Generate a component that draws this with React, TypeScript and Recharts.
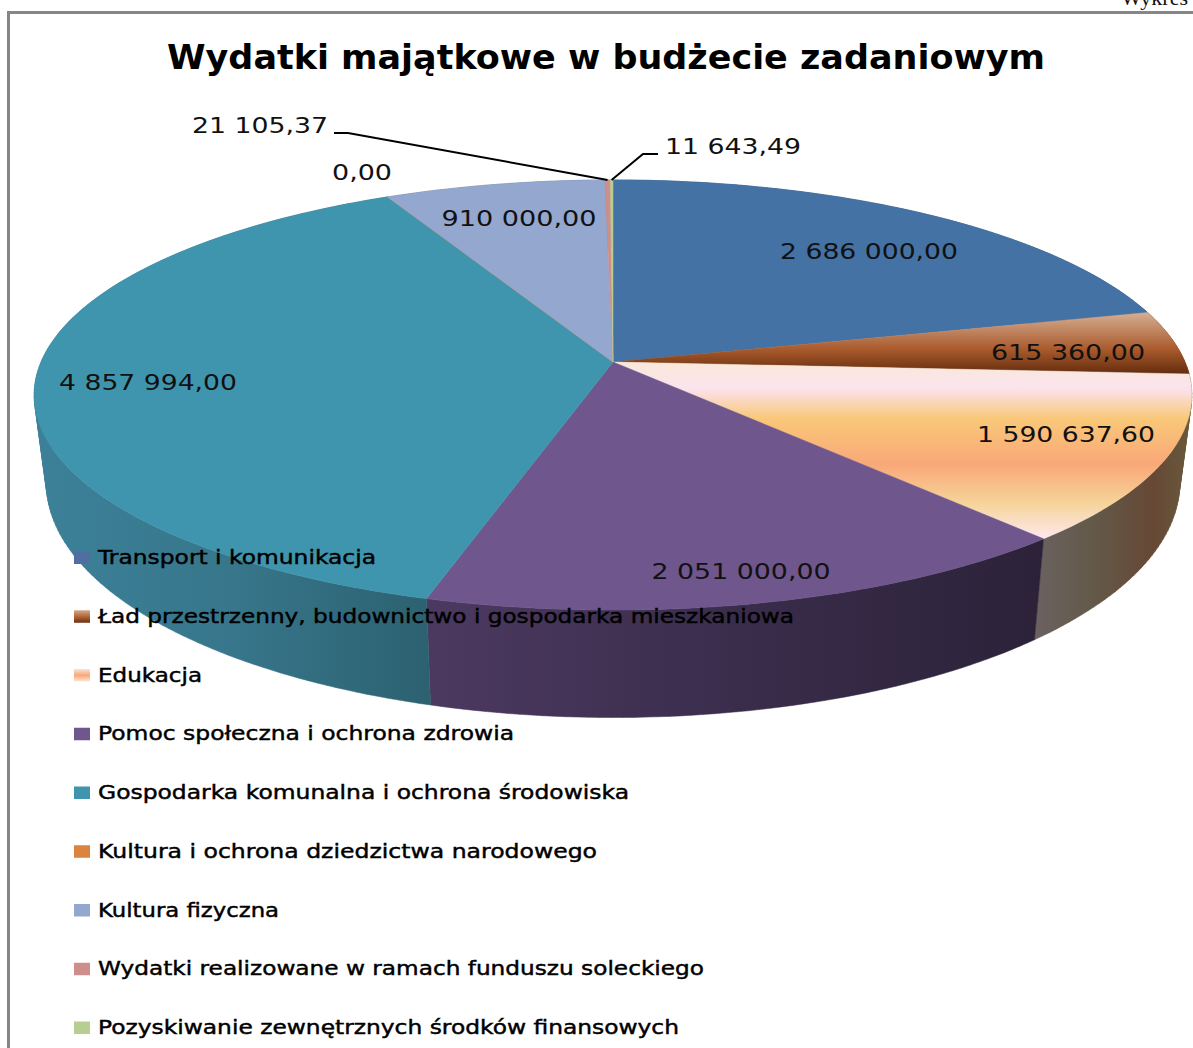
import { Legend, Pie, PieChart } from 'recharts';

const categories = [
  'Transport i komunikacja',
  'Ład przestrzenny, budownictwo i gospodarka mieszkaniowa',
  'Edukacja',
  'Pomoc społeczna i ochrona zdrowia',
  'Gospodarka komunalna i ochrona środowiska',
  'Kultura i ochrona dziedzictwa narodowego',
  'Kultura fizyczna',
  'Wydatki realizowane w ramach funduszu soleckiego',
  'Pozyskiwanie zewnętrznych środków finansowych',
];
const values = [2686000, 615360, 1590637.6, 2051000, 4857994, 0, 910000, 21105.37, 11643.49];
const valueLabels = [
  '2 686 000,00',
  '615 360,00',
  '1 590 637,60',
  '2 051 000,00',
  '4 857 994,00',
  '0,00',
  '910 000,00',
  '21 105,37',
  '11 643,49',
];
const topColors = [
  '#4472a5',
  'url(#brownTop)',
  'url(#eduTop)',
  '#6f568c',
  '#4095ae',
  '#dc843e',
  '#93a7cf',
  '#cd8e8c',
  '#b8cd92',
];
const wallColors = [
  '#34567c',
  '#6b3a1c',
  'url(#eduWall)',
  'url(#purpleWall)',
  'url(#tealWall)',
  '#a5632e',
  '#6e7d9b',
  '#9a6a69',
  '#8a9a6d',
];
const swatchColors = [
  '#4f6fa3',
  'url(#brownSwatch)',
  'url(#eduSwatch)',
  '#6f568c',
  '#4095ae',
  '#dc843e',
  '#93a7cf',
  '#cd8e8c',
  '#b8cd92',
];

// x centre, baseline y, text width of each value label
const labelSpots = [
  [869, 259, 178],
  [1068, 360, 154],
  [1066, 442, 178],
  [741, 579, 179],
  [148, 390, 178],
  [362, 180, 60],
  [519, 226, 155],
  [260, 133, 136],
  [733, 154, 136],
];
// where the leader line leaves the label
const leaders: Record<number, [number, number][]> = {
  7: [[334, 133], [348, 133]],
  8: [[658, 154], [643, 154]],
};
const legendWidths = [278, 696, 104, 416, 531, 499, 181, 606, 581];

const topData = categories.map((name, i) => ({ name, value: values[i], fill: topColors[i] }));
const wallData = categories.map((name, i) => ({ name, value: values[i], fill: wallColors[i] }));

// the chart is a 3D pie seen in perspective: unit circle -> screen
const persp = 0.1535;
const project = (deg: number, k: number, m: number, y0: number) => {
  const t = ((90 - deg) * Math.PI) / 180;
  const u = Math.sin(t);
  const v = Math.cos(t);
  const d = 1 + persp * v;
  return [613 + (k * u) / d, y0 - (m * v) / d];
};
const topPoint = (deg: number) => project(deg, 572, 210, 362);
const bottomPoint = (deg: number) => project(deg, 560, 229, 447);

const arc = (from: number, to: number, fn: (d: number) => number[]) => {
  const n = Math.max(1, Math.ceil(Math.abs(to - from)));
  const pts: number[][] = [];
  for (let i = 0; i <= n; i++) pts.push(fn(from + ((to - from) * i) / n));
  return pts;
};
const toPath = (pts: number[][]) =>
  'M' + pts.map((p) => `${p[0].toFixed(1)},${p[1].toFixed(1)}`).join('L') + 'Z';

const area = (pts: number[][]) =>
  pts.reduce((s, p, i) => {
    const q = pts[(i + 1) % pts.length];
    return s + p[0] * q[1] - q[0] * p[1];
  }, 0);

function TopFace(props: any) {
  const pts = [[613, 362], ...arc(props.startAngle, props.endAngle, topPoint)];
  return <path d={toPath(pts)} fill={props.fill} stroke={props.fill} strokeWidth={0.5} />;
}

// one quad per degree, all wound the same way so the silhouette stays filled
function WallFace(props: any) {
  const top = arc(props.startAngle, props.endAngle, topPoint);
  const bottom = arc(props.startAngle, props.endAngle, bottomPoint);
  let d = '';
  for (let i = 0; i < top.length - 1; i++) {
    const quad = [top[i], top[i + 1], bottom[i + 1], bottom[i]];
    d += toPath(area(quad) < 0 ? quad.reverse() : quad);
  }
  return <path d={d} fill={props.fill} stroke={props.fill} strokeWidth={0.5} />;
}

function ValueLabel(props: any) {
  const [x, y, w] = labelSpots[props.index];
  const lead = leaders[props.index];
  return (
    <g>
      {lead && (
        <polyline
          points={[...lead, topPoint(props.midAngle)].map((p) => p.join(',')).join(' ')}
          fill="none"
          stroke="#000"
          strokeWidth={2}
        />
      )}
      <text
        x={x}
        y={y}
        textAnchor="middle"
        fontFamily="'DejaVu Sans'"
        fontSize={22}
        fill="#111"
        textLength={w}
        lengthAdjust="spacingAndGlyphs"
      >
        {valueLabels[props.index]}
      </text>
    </g>
  );
}

function ChartLegend() {
  return (
    <svg width={1193} height={1048} style={{ display: 'block' }}>
      <defs>
        <linearGradient id="brownSwatch" x1="0" y1="0" x2="0" y2="1">
          <stop offset="0" stopColor="#d4a98a" />
          <stop offset="0.6" stopColor="#a95a2c" />
          <stop offset="1" stopColor="#6b3010" />
        </linearGradient>
        <linearGradient id="eduSwatch" x1="0" y1="0" x2="0" y2="1">
          <stop offset="0" stopColor="#fbe3d8" />
          <stop offset="0.5" stopColor="#f9a878" />
          <stop offset="1" stopColor="#fde8d8" />
        </linearGradient>
      </defs>
      {categories.map((name, i) => {
        const y = 557.5 + i * 58.75;
        return (
          <g key={name}>
            <rect x={74} y={y - 6} width={16} height={12.5} fill={swatchColors[i]} />
            <text
              x={98}
              y={y + 6.5}
              fontFamily="'DejaVu Sans'"
              fontSize={20}
              fill="#000"
              stroke="#000"
              strokeWidth={0.45}
              textLength={legendWidths[i]}
              lengthAdjust="spacingAndGlyphs"
            >
              {name}
            </text>
          </g>
        );
      })}
    </svg>
  );
}

export default function App() {
  return (
    <div style={{ position: 'absolute', left: 0, top: 0, width: 1193, height: 1048, overflow: 'hidden', background: '#fff' }}>
      <div
        style={{
          position: 'absolute',
          right: 5,
          top: -15,
          fontFamily: "'Liberation Serif'",
          fontSize: 22,
          color: '#111',
        }}
      >
        Wykres
      </div>
      <div
        style={{
          position: 'absolute',
          left: 7,
          top: 11,
          width: 1186,
          height: 1037,
          borderLeft: '3px solid #868686',
          borderTop: '3px solid #868686',
          boxSizing: 'border-box',
        }}
      />
      <div style={{ position: 'absolute', left: 0, top: 0 }}>
        <PieChart width={1193} height={1048} margin={{ top: 0, right: 0, bottom: 0, left: 0 }}>
          <defs>
            <linearGradient id="brownTop" x1="0" y1="0" x2="0" y2="1">
              <stop offset="0" stopColor="#d6ae92" />
              <stop offset="0.6" stopColor="#a95a2c" />
              <stop offset="1" stopColor="#632c0e" />
            </linearGradient>
            <linearGradient id="eduTop" x1="0" y1="0" x2="0" y2="1">
              <stop offset="0" stopColor="#f9e9d8" />
              <stop offset="0.15" stopColor="#fbe3ee" />
              <stop offset="0.32" stopColor="#f9c878" />
              <stop offset="0.58" stopColor="#f9a878" />
              <stop offset="0.8" stopColor="#f6d49a" />
              <stop offset="1" stopColor="#fde8ee" />
            </linearGradient>
            <linearGradient id="eduWall" x1="0" y1="0" x2="1" y2="0">
              <stop offset="0" stopColor="#6b6161" />
              <stop offset="0.35" stopColor="#635a4a" />
              <stop offset="0.75" stopColor="#664835" />
              <stop offset="1" stopColor="#685a3c" />
            </linearGradient>
            <linearGradient id="purpleWall" x1="0" y1="0" x2="1" y2="0">
              <stop offset="0" stopColor="#4c3960" />
              <stop offset="0.5" stopColor="#3a2d4c" />
              <stop offset="1" stopColor="#2b2238" />
            </linearGradient>
            <linearGradient id="tealWall" x1="0" y1="0" x2="1" y2="0">
              <stop offset="0" stopColor="#3c8199" />
              <stop offset="0.5" stopColor="#37768b" />
              <stop offset="1" stopColor="#2c6170" />
            </linearGradient>
          </defs>
          <Pie
            data={wallData}
            dataKey="value"
            nameKey="name"
            cx={613}
            cy={362}
            outerRadius={100}
            startAngle={90}
            endAngle={-270}
            stroke="none"
            shape={WallFace}
            isAnimationActive={false}
          />
          <Pie
            data={topData}
            dataKey="value"
            nameKey="name"
            cx={613}
            cy={362}
            outerRadius={100}
            startAngle={90}
            endAngle={-270}
            stroke="none"
            shape={TopFace}
            label={ValueLabel}
            labelLine={false}
            isAnimationActive={false}
          />
          <text
            x={606}
            y={69}
            textAnchor="middle"
            fontFamily="'DejaVu Sans'"
            fontWeight="bold"
            fontSize={33}
            fill="#000"
            textLength={878}
            lengthAdjust="spacingAndGlyphs"
          >
            Wydatki majątkowe w budżecie zadaniowym
          </text>
          <Legend
            content={<ChartLegend />}
            wrapperStyle={{ position: 'absolute', left: 0, top: 0, width: 1193, height: 1048 }}
          />
        </PieChart>
      </div>
    </div>
  );
}
